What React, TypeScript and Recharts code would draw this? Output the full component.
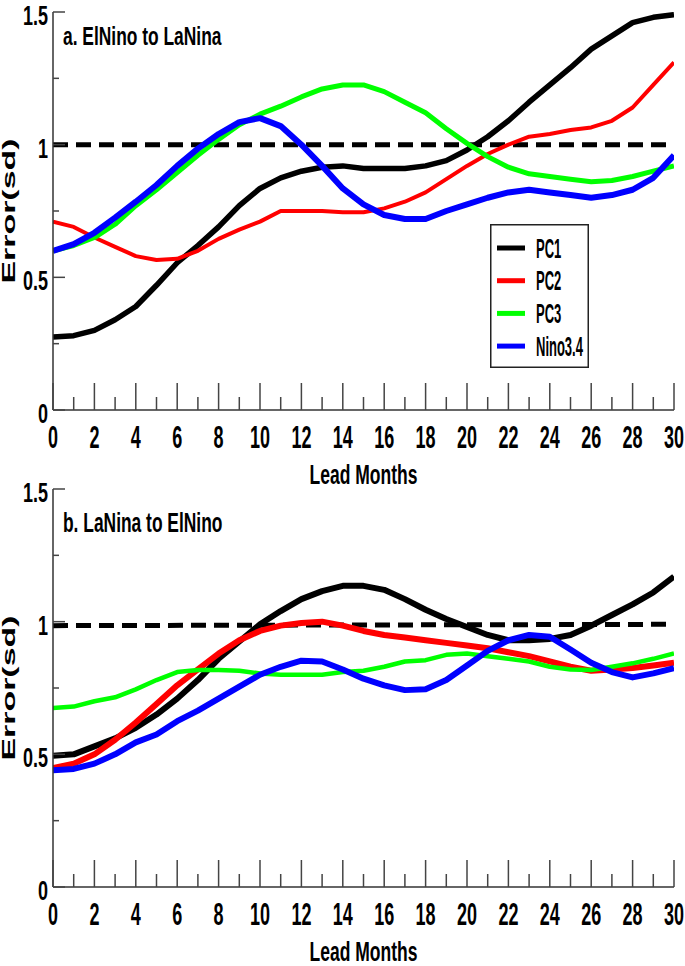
import { LineChart, Line, XAxis, YAxis, Legend } from 'recharts'

const MONTHS = [0, 1, 2, 3, 4, 5, 6, 7, 8, 9, 10, 11, 12, 13, 14, 15, 16, 17, 18, 19, 20, 21, 22, 23, 24, 25, 26, 27, 28, 29, 30]
const Y_TICKS = [0, 0.25, 0.5, 0.75, 1, 1.25, 1.5]
const SERIES_NAMES = ['PC1', 'PC2', 'PC3', 'Nino3.4']

// a. ElNino to LaNina
const PC1_A = [0.275, 0.28, 0.3, 0.34, 0.39, 0.47, 0.555, 0.62, 0.69, 0.77, 0.835, 0.875, 0.9, 0.915, 0.92, 0.91, 0.91, 0.91, 0.92, 0.94, 0.98, 1.03, 1.09, 1.16, 1.225, 1.29, 1.36, 1.41, 1.46, 1.48, 1.49]
const PC2_A = [0.71, 0.69, 0.65, 0.615, 0.58, 0.565, 0.57, 0.6, 0.645, 0.68, 0.71, 0.75, 0.75, 0.75, 0.745, 0.745, 0.76, 0.785, 0.82, 0.87, 0.92, 0.965, 1.0, 1.03, 1.04, 1.055, 1.065, 1.09, 1.14, 1.225, 1.31]
const PC3_A = [0.6, 0.62, 0.65, 0.7, 0.77, 0.83, 0.895, 0.96, 1.02, 1.075, 1.115, 1.145, 1.18, 1.21, 1.225, 1.225, 1.2, 1.16, 1.12, 1.06, 1.005, 0.955, 0.915, 0.89, 0.88, 0.87, 0.86, 0.865, 0.88, 0.9, 0.92]
const NINO_A = [0.6, 0.625, 0.668, 0.725, 0.785, 0.848, 0.92, 0.985, 1.04, 1.085, 1.1, 1.07, 1.0, 0.92, 0.835, 0.775, 0.735, 0.72, 0.72, 0.75, 0.775, 0.8, 0.82, 0.83, 0.82, 0.81, 0.8, 0.81, 0.83, 0.875, 0.96]
const REF_A = [1.0, 1.0]

// b. LaNina to ElNino
const PC1_B = [0.495, 0.5, 0.53, 0.56, 0.6, 0.65, 0.71, 0.78, 0.86, 0.925, 0.99, 1.04, 1.085, 1.115, 1.135, 1.135, 1.12, 1.085, 1.045, 1.01, 0.98, 0.95, 0.93, 0.93, 0.935, 0.95, 0.985, 1.025, 1.065, 1.11, 1.17]
const PC2_B = [0.448, 0.465, 0.5, 0.555, 0.62, 0.69, 0.76, 0.82, 0.88, 0.93, 0.965, 0.985, 0.995, 1.0, 0.985, 0.965, 0.95, 0.94, 0.93, 0.92, 0.91, 0.9, 0.885, 0.87, 0.85, 0.83, 0.815, 0.82, 0.825, 0.835, 0.845]
const PC3_B = [0.675, 0.68, 0.7, 0.715, 0.745, 0.78, 0.81, 0.818, 0.818, 0.815, 0.805, 0.8, 0.8, 0.8, 0.81, 0.815, 0.83, 0.85, 0.855, 0.875, 0.88, 0.87, 0.86, 0.85, 0.83, 0.82, 0.818, 0.83, 0.843, 0.86, 0.88]
const NINO_B = [0.44, 0.445, 0.465, 0.5, 0.545, 0.575, 0.625, 0.665, 0.71, 0.755, 0.8, 0.83, 0.853, 0.85, 0.82, 0.785, 0.76, 0.742, 0.745, 0.78, 0.835, 0.89, 0.93, 0.95, 0.943, 0.895, 0.845, 0.81, 0.79, 0.805, 0.825]
const REF_B = [0.985, 0.99]
const REF_MONTHS = [0, 30]

const FONT = "'Liberation Sans', Arial, Helvetica, sans-serif"
const AXIS = { stroke: '#333', strokeWidth: 1.5 }

const isMajorY = (v: number) => Math.abs(v * 2 - Math.round(v * 2)) < 1e-6

function XTickBottom(props: any) {
  const { x, y, payload } = props
  const major = payload.value % 2 === 0
  return (
    <g>
      <line x1={x} x2={x} y1={y} y2={y - (major ? 27 : 13)} stroke="#444" strokeWidth={1.5} />
      {major && (
        <text transform={`translate(${x} ${y + 38}) scale(1 1.75)`} textAnchor="middle"
          fontFamily={FONT} fontWeight={700} fontSize={18} fill="#000">{payload.value}</text>
      )}
    </g>
  )
}

function XTickTop(props: any) {
  const { x, y, payload } = props
  const major = payload.value % 2 === 0
  return <line x1={x} x2={x} y1={y} y2={y + (major ? 26 : 13)} stroke="#444" strokeWidth={1.5} />
}

function YTickLeft(props: any) {
  const { x, y, payload } = props
  const major = isMajorY(payload.value)
  return (
    <g>
      <line x1={x} x2={x + (major ? 12 : 6)} y1={y} y2={y} stroke="#444" strokeWidth={1.5} />
      {major && (
        <text transform={`translate(${x - 5} ${y + 13}) scale(1 1.55)`} textAnchor="end"
          fontFamily={FONT} fontWeight={700} fontSize={18} fill="#000">{payload.value}</text>
      )}
    </g>
  )
}

function YTickRight(props: any) {
  const { x, y, payload } = props
  const major = isMajorY(payload.value)
  return <line x1={x} x2={x - (major ? 12 : 6)} y1={y} y2={y} stroke="#444" strokeWidth={1.5} />
}

function XLabel(props: any) {
  const { viewBox } = props
  const cx = viewBox.x + viewBox.width / 2
  return (
    <text transform={`translate(${cx} ${viewBox.y + 74}) scale(1 1.6)`} textAnchor="middle"
      fontFamily={FONT} fontWeight={700} fontSize={17.5} fill="#000">Lead Months</text>
  )
}

// y-axis title plus the panel title, placed from the left axis box
function YLabel(props: any) {
  const { viewBox, title, titleDy, titleSy } = props
  const cy = viewBox.y + viewBox.height / 2
  return (
    <g>
      <text transform={`translate(15 ${cy}) rotate(-90)`} textAnchor="middle" textLength={145}
        lengthAdjust="spacingAndGlyphs" fontFamily={FONT} fontWeight={700} fontSize={18} fill="#000">Error(sd)</text>
      <text transform={`translate(${viewBox.x + viewBox.width + 10} ${viewBox.y + titleDy}) scale(1 ${titleSy})`}
        fontFamily={FONT} fontWeight={700} fontSize={17.4} fill="#000">{title}</text>
    </g>
  )
}

function LegendBox(props: any) {
  const items = (props.payload || [])
    .filter((p: any) => SERIES_NAMES.includes(p.value))
    .sort((a: any, b: any) => SERIES_NAMES.indexOf(a.value) - SERIES_NAMES.indexOf(b.value))
  return (
    <svg width={99} height={144} style={{ display: 'block' }}>
      <rect x={0.75} y={0.75} width={97.5} height={142.5} fill="#fff" stroke="#222" strokeWidth={1.5} />
      {items.map((p: any, i: number) => {
        const cy = 24 + i * 32.7
        return (
          <g key={p.value}>
            <line x1={7} x2={35} y1={cy} y2={cy} stroke={p.color} strokeWidth={5} />
            <text transform={`translate(46 ${cy + 9.5}) scale(1 2.1)`} fontFamily={FONT}
              fontWeight={700} fontSize={13} fill="#000">{p.value}</text>
          </g>
        )
      })}
    </svg>
  )
}

interface PanelProps {
  pc1: number[]
  pc2: number[]
  pc3: number[]
  nino: number[]
  refVals: number[]
  title: string
  titleDy: number
  titleSy: number
  showLegend: boolean
  widths: number[]
  top: number
  height: number
}

function Panel({ pc1, pc2, pc3, nino, refVals, title, titleDy, titleSy, showLegend, widths, top, height }: PanelProps) {
  const data = MONTHS.map((m, i) => ({ m, pc1: pc1[i], pc2: pc2[i], pc3: pc3[i], nino: nino[i] }))
  const refData = REF_MONTHS.map((m, i) => ({ m, ref: refVals[i] }))
  return (
    <LineChart width={685} height={height} data={data} margin={{ top, right: 11, bottom: 0, left: 0 }}>
      <XAxis xAxisId="b" type="number" dataKey="m" domain={[0, 30]} allowDataOverflow ticks={MONTHS} interval={0}
        tickSize={0} tickMargin={0} height={79} axisLine={AXIS} tick={(p: any) => <XTickBottom {...p} />}
        label={<XLabel />} />
      <XAxis xAxisId="t" orientation="top" type="number" dataKey="m" domain={[0, 30]} allowDataOverflow ticks={MONTHS}
        interval={0} tickSize={0} tickMargin={0} height={0} axisLine={AXIS} tick={(p: any) => <XTickTop {...p} />} />
      <YAxis yAxisId="l" type="number" domain={[0, 1.5]} allowDataOverflow ticks={Y_TICKS} interval={0}
        tickSize={0} tickMargin={0} width={53} axisLine={AXIS} tick={(p: any) => <YTickLeft {...p} />}
        label={<YLabel title={title} titleDy={titleDy} titleSy={titleSy} />} />
      <YAxis yAxisId="r" orientation="right" type="number" domain={[0, 1.5]} allowDataOverflow ticks={Y_TICKS}
        interval={0} tickSize={0} tickMargin={0} width={0} axisLine={AXIS} tick={(p: any) => <YTickRight {...p} />} />
      <Line xAxisId="t" yAxisId="r" data={refData} dataKey="ref" stroke="#000" strokeWidth={5}
        strokeDasharray="15 8" dot={false} legendType="none" isAnimationActive={false} />
      <Line xAxisId="b" yAxisId="l" dataKey="pc1" name="PC1" stroke="#000000" strokeWidth={widths[0]}
        dot={false} strokeLinejoin="round" isAnimationActive={false} />
      <Line xAxisId="b" yAxisId="l" dataKey="pc2" name="PC2" stroke="#ff0000" strokeWidth={widths[1]}
        dot={false} strokeLinejoin="round" isAnimationActive={false} />
      <Line xAxisId="b" yAxisId="l" dataKey="pc3" name="PC3" stroke="#00ff00" strokeWidth={widths[2]}
        dot={false} strokeLinejoin="round" isAnimationActive={false} />
      <Line xAxisId="b" yAxisId="l" dataKey="nino" name="Nino3.4" stroke="#0000ff" strokeWidth={widths[3]}
        dot={false} strokeLinejoin="round" isAnimationActive={false} />
      {showLegend && (
        <Legend layout="vertical" align="center" verticalAlign="middle" content={<LegendBox />}
          wrapperStyle={{ position: 'absolute', left: 490, top: 224, width: 99, height: 144 }} />
      )}
    </LineChart>
  )
}

export default function App() {
  return (
    <div style={{ position: 'absolute', left: 0, top: 0, width: 685, height: 966, background: '#fff' }}>
      <div style={{ position: 'absolute', left: 0, top: 0 }}>
        <Panel pc1={PC1_A} pc2={PC2_A} pc3={PC3_A} nino={NINO_A} refVals={REF_A} top={12} height={489}
          title="a. ElNino to LaNina" titleDy={33} titleSy={1.45} showLegend widths={[5.5, 4, 5, 6]} />
      </div>
      <div style={{ position: 'absolute', left: 0, top: 467 }}>
        <Panel pc1={PC1_B} pc2={PC2_B} pc3={PC3_B} nino={NINO_B} refVals={REF_B} top={22} height={499}
          title="b. LaNina to ElNino" titleDy={43} titleSy={1.6} showLegend={false} widths={[6, 6, 4.5, 6]} />
      </div>
    </div>
  )
}
